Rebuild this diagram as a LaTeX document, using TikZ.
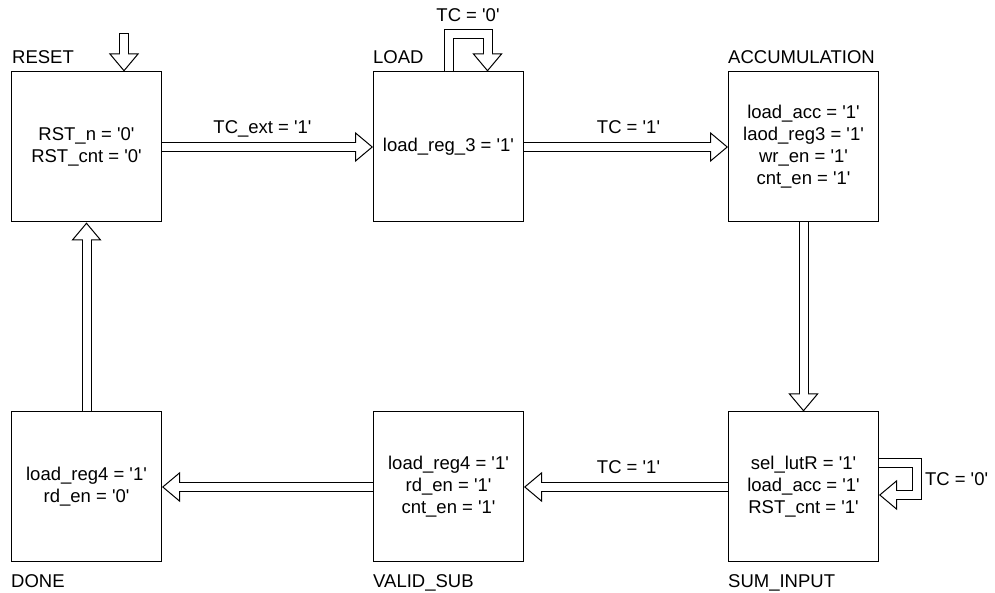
\documentclass[tikz,border=0pt]{standalone}
\usepackage{fontspec}
\setmainfont{Liberation Sans}[Ligatures=TeXOff]
\usetikzlibrary{positioning}
\usetikzlibrary{arrows.meta}
\tikzstyle{statebox} = [rectangle,
minimum width=150pt,
minimum height=150pt, text centered,
align = center,
draw=black, line width=1pt]
\tikzstyle{statename} = [inner sep=0pt, text depth=0pt]
\tikzstyle{condition} = [inner sep=0pt, outer sep=0pt, text depth=0pt]
\tikzset{hollow/.style={line width=10pt, draw=black, line join=miter,
  -{Triangle[length=18pt, width=30pt, line width=1pt, fill=white]},
  postaction={draw=white, line width=8pt, -, shorten >=9pt, shorten <=#1}}, % white core of the fat arrow
  hollow/.default=0pt}

\begin{document}
\begin{tikzpicture}[x=1pt, y=1pt, font=\fontsize{18.5}{22}\selectfont] % one unit = one pixel
    \useasboundingbox (0,0) rectangle (995,593);
    % states
    \node[statebox] (reset) at (86.5,446) {RST\_n = '0'\\RST\_cnt = '0'};
    \node[statebox, right=211pt of reset] (load) {load\_reg\_3 = '1'};
    \node[statebox, right=204pt of load] (acc) {load\_acc = '1'\\laod\_reg3 = '1'\\wr\_en = '1'\\cnt\_en = '1'};
    \node[statebox, below=189pt of acc] (sum) {sel\_lutR = '1'\\load\_acc = '1'\\RST\_cnt = '1'};
    \node[statebox, left=204pt of sum] (valid) {load\_reg4 = '1'\\rd\_en = '1'\\cnt\_en = '1'};
    \node[statebox, left=211pt of valid] (done) {load\_reg4 = '1'\\rd\_en = '0'};
    % state names
    \node[statename, above=8pt of reset.north west, anchor=south west, xshift=1pt] (resetname) {RESET};
    \node[statename, above=8pt of load.north west, anchor=south west] (loadname) {LOAD};
    \node[statename, above=8pt of acc.north west, anchor=south west] (accname) {ACCUMULATION};
    \node[statename, below=12pt of sum.south west, anchor=north west] (sumname) {SUM\_INPUT};
    \node[statename, below=12pt of valid.south west, anchor=north west] (validname) {VALID\_SUB};
    \node[statename, below=12pt of done.south west, anchor=north west] (donename) {DONE};
    % transitions
    \coordinate[above=38pt of reset.north, xshift=37.5pt] (rstin);
    \draw[hollow=1pt] (rstin) -- (rstin |- reset.north);
    \draw[hollow] (reset) -- node[condition, above=13pt, xshift=-5pt] (tcext) {TC\_ext = '1'} (load);
    \draw[hollow] (load) -- node[condition, above=13pt, xshift=2.5pt] (tcload) {TC = '1'} (acc);
    \draw[hollow] (acc) -- (sum);
    \draw[hollow] (sum) -- node[condition, above=13pt, xshift=2.5pt] (tcsum) {TC = '1'} (valid);
    \draw[hollow] (valid) -- (done);
    \draw[hollow] (done) -- (reset);
    \draw[hollow] (load.north) -- ++(0,37) -| node[condition, pos=0.25, above=12.5pt] (tcloop) {TC = '0'} ([xshift=39pt]load.north);
    \draw[hollow] ([yshift=24pt]sum.east) -- ++(38,0) |- node[condition, pos=0.25, right=8pt] (tcsumloop) {TC = '0'} ([yshift=-8pt]sum.east);
\end{tikzpicture}
\end{document}
